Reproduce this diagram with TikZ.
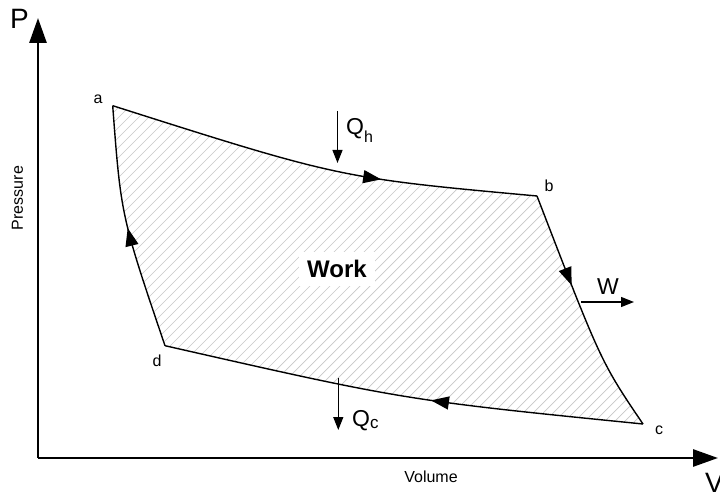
\documentclass[tikz,border=0pt]{standalone}
\usepackage{fontspec}
\setmainfont{Liberation Sans}
\usetikzlibrary{arrows.meta,decorations.markings}
\begin{document}
\begin{tikzpicture}[x=1pt,y=1pt,
  axis/.style={line width=2.8pt,-{Triangle[length=25pt,width=17pt]}},
  curve/.style={line width=1.4pt},
  flowmark/.style={postaction={decorate},decoration={markings,
     mark=at position #1 with {\arrow{Triangle[length=18pt,width=13pt]}}}},
  heat/.style={line width=1.3pt,-{Triangle[length=13pt,width=10pt]}},
  hatch/.style={draw=black!22,line width=0.7pt},
  lbl/.style={inner sep=0pt,font=\fontsize{16}{18}\selectfont},
  big/.style={inner sep=0pt,font=\fontsize{28}{30}\selectfont},
  mid/.style={inner sep=0pt,font=\fontsize{23}{25}\selectfont}]
\useasboundingbox (0,0) rectangle (720,496);
% state points and controls
\coordinate (a) at (112.7,390.3);
\coordinate (b) at (537,300);
\coordinate (c) at (643,72);
\coordinate (d) at (165,150.3);
\coordinate (cab) at (340,318);
\coordinate (cbc) at (601,134);
\coordinate (ccd) at (404,96);
\coordinate (cda) at (121,280);
% hatching
\begin{scope}
  \clip (a) .. controls (cab) .. (b) .. controls (cbc) .. (c)
        .. controls (ccd) .. (d) .. controls (cda) .. (a) -- cycle;
  \foreach \i in {-600,-590,...,700} \draw[hatch] (\i,0) -- ++(500,500);
\end{scope}
% work label
\node[fill=white,inner xsep=8pt,inner ysep=8pt,font=\fontsize{24}{26}\selectfont\bfseries] (work) at (337,227) {Work};
% cycle
\draw[curve,flowmark=0.64] (a) .. controls (cab) .. (b);
\draw[curve,flowmark=0.38] (b) .. controls (cbc) .. (c);
\draw[curve,flowmark=0.44] (c) .. controls (ccd) .. (d);
\draw[curve,flowmark=0.5] (d) .. controls (cda) .. (a);
% axes
\coordinate (o) at (38,38);
\coordinate (ptip) at (38,478);
\coordinate (vtip) at (718,38);
\draw[axis] (o) -- (ptip);
\draw[axis] (o) -- (vtip);
\node[big] (P) at (19.5,477) {P};
\node[big] (V) at (714.5,13.5) {V};
\node[lbl,rotate=90] (pres) at (17.5,298) {Pressure};
\node[lbl] (vol) at (431,19) {Volume};
% point labels
\node[lbl] (la) at (98,397) {a};
\node[lbl] (lb) at (549,310) {b};
\node[lbl] (lc) at (659,66) {c};
\node[lbl] (ld) at (157,135) {d};
% heat and work arrows
\coordinate (qh1) at (337.5,385);
\coordinate (qh2) at (337.5,333);
\coordinate (qc1) at (338.3,118.3);
\coordinate (qc2) at (338.3,66);
\coordinate (w1) at (581,194);
\coordinate (w2) at (634,194);
\draw[heat] (qh1) -- (qh2);
\draw[heat] (qc1) -- (qc2);
\draw[heat] (w1) -- (w2);
\node[mid,anchor=base west] (Qh) at (346,361) {Q\raisebox{-8pt}{\fontsize{16}{16}\selectfont h}};
\node[mid,anchor=base west] (Qc) at (352,70) {Q\raisebox{-2pt}{\fontsize{17}{17}\selectfont c}};
\node[mid] (W) at (608,209.5) {W};
\end{tikzpicture}
\end{document}
